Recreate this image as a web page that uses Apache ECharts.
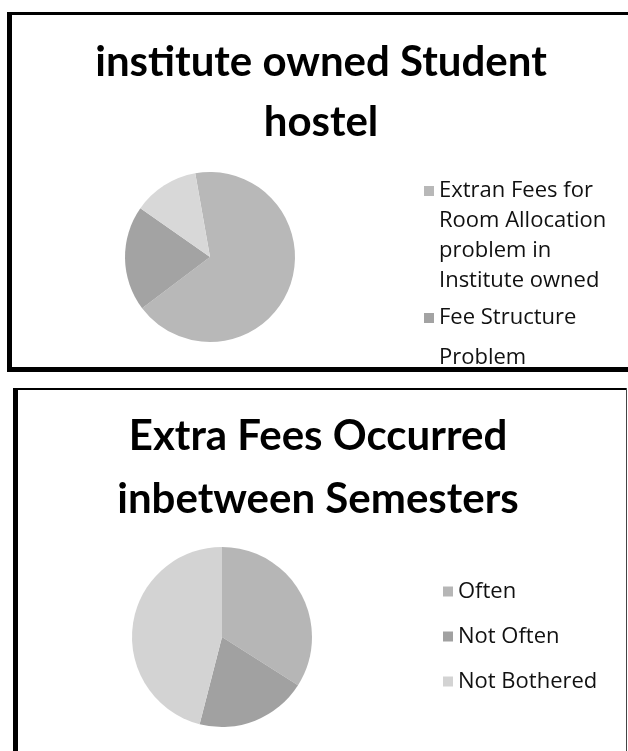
<!DOCTYPE html>
<html>
<head>
<meta charset="utf-8">
<script src="https://cdn.jsdelivr.net/npm/echarts@6/dist/echarts.min.js"></script>
<style>
  html, body { margin: 0; padding: 0; background: #ffffff; }
  #chart { width: 628px; height: 751px; }
</style>
</head>
<body>
<div id="chart"></div>
<script>
// Survey: institute owned student hostel problems
const hostelCategories = [
  'Extran Fees for Room Allocation problem in Institute owned',
  'Fee Structure Problem',
  'Other Problems'
];
const hostelLegendText = [
  'Extran Fees for\nRoom Allocation\nproblem in\nInstitute owned',
  'Fee Structure\nProblem'
];
const hostelValues = [27, 8, 5];
const hostelColors = ['#b8b8b8', '#a3a3a3', '#d8d8d8'];

// Survey: extra fees between semesters
const feeCategories = ['Often', 'Not Often', 'Not Bothered'];
const feeValues = [17, 10, 23];
const feeColors = ['#b6b6b6', '#a1a1a1', '#d3d3d3'];

const titleFont = 'Lato';
const bodyFont = 'Open Sans';

const chart = echarts.init(document.getElementById('chart'), null, { renderer: 'canvas' });

function pieData(names, values, colors) {
  return names.map((n, i) => ({ name: n, value: values[i], itemStyle: { color: colors[i] } }));
}

const legendBase = {
  orient: 'vertical',
  icon: 'rect',
  itemWidth: 10,
  itemHeight: 10,
  padding: 0,
  selectedMode: false,
  textStyle: { fontFamily: bodyFont, fontSize: 22, color: '#111' }
};

// Multi-line legend entry: the icon box spans the whole text block and the
// visible swatch sits level with the first line.
function hostelLegend(idx, firstLineCenter, lh) {
  const h = hostelLegendText[idx].split('\n').length * lh;
  const sq = lh / 2 - 5;
  const icon = 'path://M0,0L0.01,0L0.01,0.01Z' +
    'M0,' + sq + 'H10V' + (sq + 10) + 'H0Z' +
    'M0,' + (h - 0.01) + 'L0.01,' + (h - 0.01) + 'L0.01,' + h + 'Z';
  return Object.assign({}, legendBase, {
    left: 424,
    top: firstLineCenter - lh / 2,
    itemHeight: h,
    itemSymbolKeepAspect: true,
    data: [{ name: hostelCategories[idx], icon: icon }],
    formatter: () => hostelLegendText[idx],
    textStyle: Object.assign({}, legendBase.textStyle, { lineHeight: lh })
  });
}

const option = {
  animation: false,
  backgroundColor: '#ffffff',
  title: [
    {
      text: 'institute owned Student\nhostel',
      left: 316, top: 27, textAlign: 'center',
      textStyle: { fontFamily: titleFont, fontWeight: 'bold', fontSize: 42, lineHeight: 60, color: '#000' }
    },
    {
      text: 'Extra Fees Occurred\ninbetween Semesters',
      left: 313, top: 400, textAlign: 'center',
      textStyle: { fontFamily: titleFont, fontWeight: 'bold', fontSize: 42, lineHeight: 63, color: '#000' }
    }
  ],
  legend: [
    hostelLegend(0, 191, 30),
    hostelLegend(1, 318, 40),
    Object.assign({}, legendBase, {
      left: 443,
      top: 579,
      itemGap: 20,
      data: feeCategories,
      textStyle: Object.assign({}, legendBase.textStyle, { lineHeight: 25 })
    })
  ],
  series: [
    {
      type: 'pie',
      center: [210, 257],
      radius: 85,
      startAngle: 100,
      clockwise: true,
      label: { show: false },
      labelLine: { show: false },
      emphasis: { disabled: true },
      itemStyle: { borderWidth: 0 },
      data: pieData(hostelCategories, hostelValues, hostelColors)
    },
    {
      type: 'pie',
      center: [222, 637],
      radius: 90,
      startAngle: 90,
      clockwise: true,
      label: { show: false },
      labelLine: { show: false },
      emphasis: { disabled: true },
      itemStyle: { borderWidth: 0 },
      data: pieData(feeCategories, feeValues, feeColors)
    }
  ],
  graphic: [
    // upper panel frame
    { type: 'rect', z: 100, shape: { x: 7, y: 12, width: 621, height: 3 }, style: { fill: '#000' } },
    { type: 'rect', z: 100, shape: { x: 7, y: 12, width: 5, height: 360 }, style: { fill: '#000' } },
    { type: 'rect', z: 100, shape: { x: 7, y: 367, width: 621, height: 5 }, style: { fill: '#000' } },
    // lower panel frame
    { type: 'rect', z: 100, shape: { x: 13, y: 388, width: 614, height: 2 }, style: { fill: '#000' } },
    { type: 'rect', z: 100, shape: { x: 13, y: 388, width: 5, height: 363 }, style: { fill: '#000' } },
    { type: 'rect', z: 100, shape: { x: 626, y: 388, width: 1, height: 363 }, style: { fill: '#444' } }
  ]
};

chart.setOption(option);
</script>
</body>
</html>
